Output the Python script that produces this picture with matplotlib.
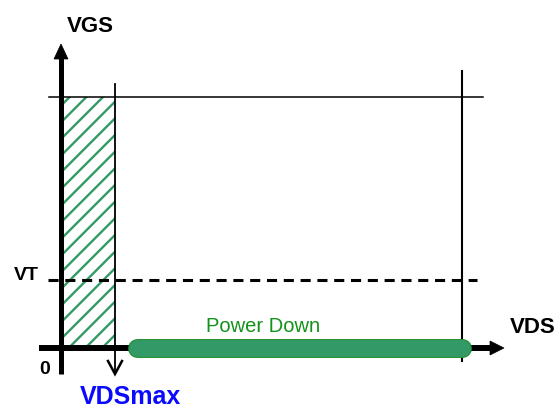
import matplotlib
matplotlib.use('Agg')
import matplotlib.pyplot as plt
from matplotlib.patches import Rectangle, Polygon
import matplotlib.patheffects as pe

# ---- diagram values (units: origin at 0) ----
axis_labels = ['VGS', 'VDS']
vt = 68              # threshold voltage level
vgs_max = 251        # max gate-source level
vds_max = 54         # VDSmax
vds_limit = 401      # right boundary of VDS region
power_down_range = [67, 409]
power_down_label = 'Power Down'
vdsmax_label = 'VDSmax'
vt_label = 'VT'
origin_label = '0'

plt.rcParams['font.family'] = ['Liberation Sans', 'DejaVu Sans']
plt.rcParams['hatch.linewidth'] = 1.7

fig = plt.figure(figsize=(5.58, 4.10), dpi=100)
ax = fig.add_axes([0, 0, 1, 1])
ax.set_xlim(-61, 497)
ax.set_ylim(-61, 349)
ax.axis('off')

green = '#339966'
green_edge = '#1f8a2a'

# hatched region
ax.add_patch(Rectangle((0, 0), vds_max, vgs_max, facecolor='none',
                       edgecolor=green, hatch='//', linewidth=0, zorder=1))

# top horizontal line (VGS max)
ax.plot([-12, 422], [vgs_max, vgs_max], color='black', lw=1.1, zorder=2)
# right vertical line
ax.plot([vds_limit, vds_limit], [-13, 277], color='black', lw=1.5, zorder=2)
# dashed VT line
ax.plot([-13, 416], [vt, vt], color='black', lw=2.2,
        linestyle=(0, (3.3, 2.2)), zorder=2)
# VDSmax line with open arrow
ax.plot([vds_max, vds_max], [-25, 264], color='black', lw=1.3, zorder=3)
ax.plot([vds_max - 7, vds_max, vds_max + 7], [-13, -26, -13], color='black',
        lw=1.8, solid_joinstyle='miter', zorder=3)

# axes
ax.plot([0, 0], [-26, 290], color='black', lw=3.6, solid_capstyle='butt', zorder=4)
ax.add_patch(Polygon([(-7, 289), (7, 289), (0, 304)], closed=True,
                     facecolor='black', edgecolor='black', lw=0.5, zorder=4))
ax.plot([-22, 430], [0, 0], color='black', lw=4.3, solid_capstyle='butt', zorder=4)
ax.add_patch(Polygon([(429, 7), (429, -7), (443, 0)], closed=True,
                     facecolor='black', edgecolor='black', lw=0.5, zorder=4))

# power down bar
r = 8.5
ax.plot([power_down_range[0] + r, power_down_range[1] - r], [0, 0],
        color=green, lw=12.2, solid_capstyle='round', zorder=5,
        path_effects=[pe.Stroke(linewidth=13.6, foreground=green_edge), pe.Normal()])

# texts
ax.text(29, 323, axis_labels[0], fontsize=16, fontweight='bold',
        ha='center', va='center')
ax.text(472, 21, axis_labels[1], fontsize=16, fontweight='bold',
        ha='center', va='center')
ax.text(-35, 74, vt_label, fontsize=14, fontweight='bold', ha='center', va='center')
ax.text(-16, -21, origin_label, fontsize=14, fontweight='bold', ha='center', va='center')
ax.text(69, -55, vdsmax_label, fontsize=18, fontweight='bold', color='#0a0aff',
        ha='center', va='baseline')
ax.text(202, 22, power_down_label, fontsize=14.5, color='#13921a',
        ha='center', va='center')

fig.savefig('out.png', dpi=100)
